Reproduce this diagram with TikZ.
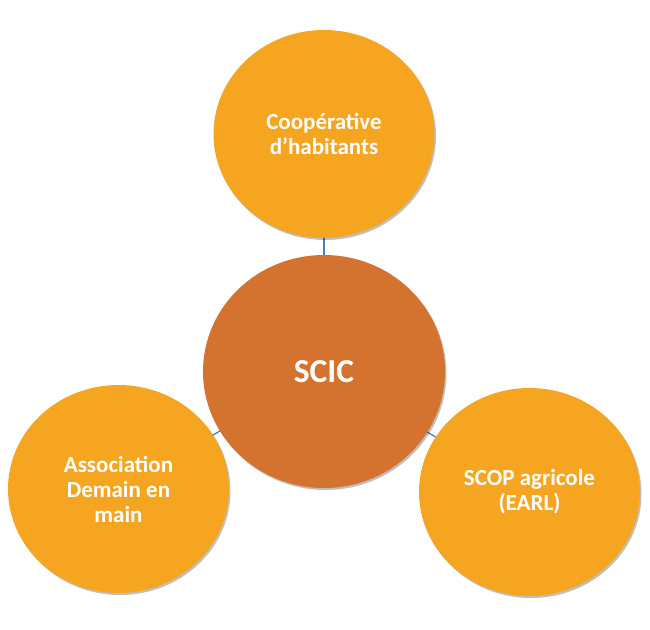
\documentclass[tikz,border=0pt]{standalone}
\usepackage{fontspec}
\setmainfont{Carlito}
\usetikzlibrary{shapes.geometric,shadows,backgrounds}
\definecolor{petal}{HTML}{F6A521}
\definecolor{hub}{HTML}{D4722F}
\definecolor{linkc}{HTML}{4A7EBB}
\tikzset{
  bubble/.style={ellipse, fill=petal, minimum width=221pt, minimum height=208pt, inner sep=0pt,
    text=white, align=center, font=\fontsize{23}{25}\selectfont\bfseries,
    drop shadow={shadow xshift=1.5pt, shadow yshift=-2pt, opacity=0.25, fill=black}},
  hubbubble/.style={bubble, fill=hub, minimum width=242pt, minimum height=233pt,
    font=\fontsize{33.5}{36}\selectfont\bfseries},
  link/.style={draw=linkc, line width=1.3pt}
}
\begin{document}
\begin{tikzpicture}[x=1pt,y=-1pt]
\useasboundingbox (0,0) rectangle (650,629);
\node[hubbubble] (c) at (324,371.5) {SCIC};
\node[bubble] (t) at (324,134) {Coopérative\\d’habitants};
\node[bubble] (l) at (118.5,489) {Association\\Demain en\\main};
\node[bubble] (r) at (529.5,492) {SCOP agricole\\(EARL)};
\begin{scope}[on background layer]
\draw[link] (c.center) -- (t.center);
\draw[link] (c.center) -- (l.center);
\draw[link] (c.center) -- (r.center);
\end{scope}
\end{tikzpicture}
\end{document}
